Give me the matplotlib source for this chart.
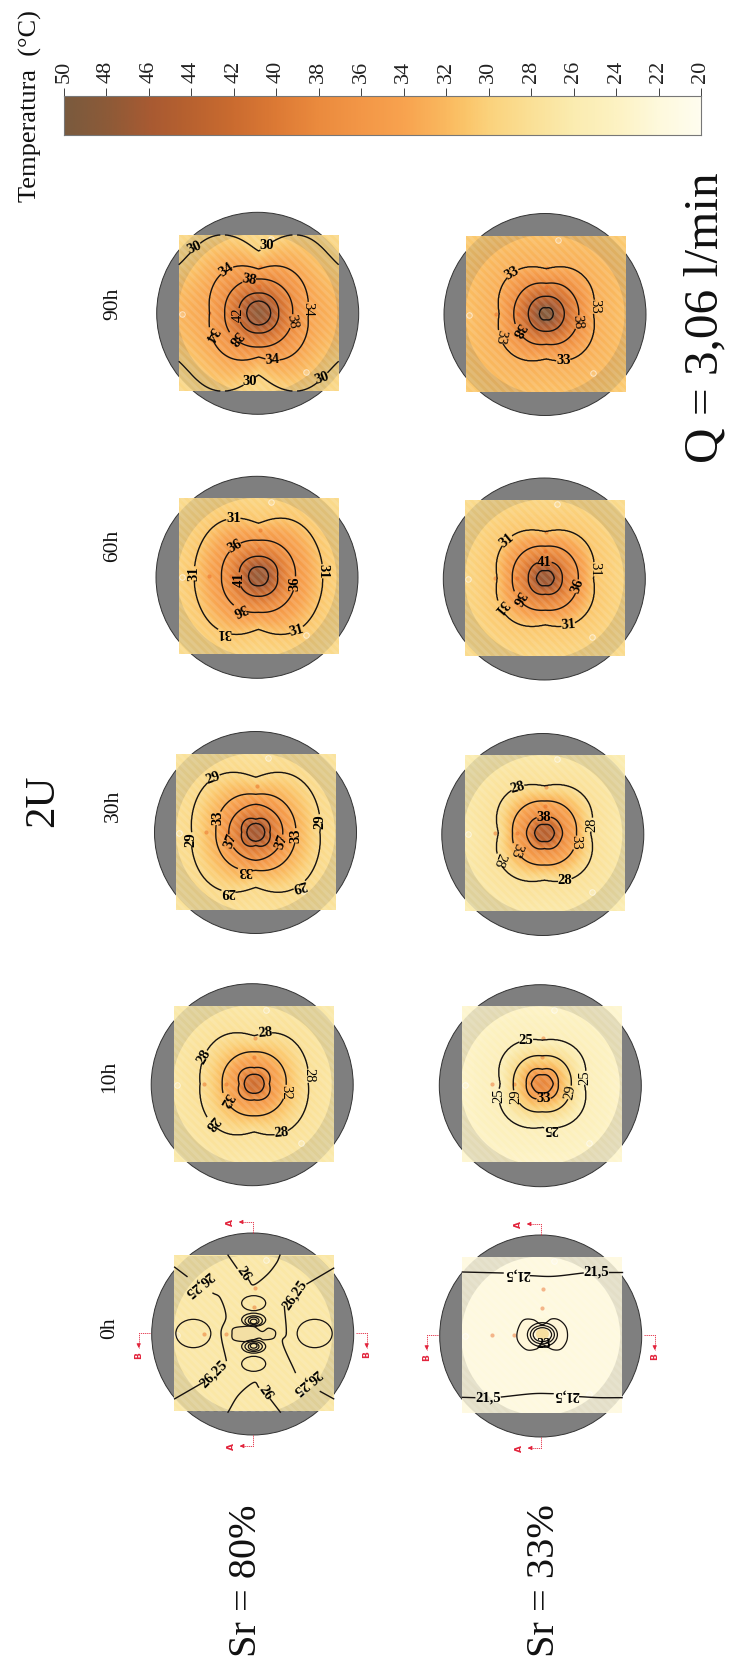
import numpy as np
import matplotlib
matplotlib.use("Agg")
import matplotlib.pyplot as plt
from matplotlib.colors import LinearSegmentedColormap
from matplotlib.patches import Circle, Rectangle, Ellipse, Wedge

plt.rcParams['font.family'] = ['Liberation Serif', 'DejaVu Serif']
plt.rcParams['hatch.linewidth'] = 2.2

W, H = 731, 1663

# ---------- colour scale ----------
cbar_temps = [20, 22, 24, 26, 28, 30, 31, 32, 34, 36, 38, 40, 42, 44, 46, 48, 50]
cbar_cols = ['#fffdef', '#fef9dc', '#fdf2c2', '#fbecb0', '#fae096', '#fbd27c', '#fbc66b', '#fab95f',
             '#f8a34f', '#f39747', '#eb8b3e', '#dd7a35', '#cb6c30', '#b9622f', '#a85a32', '#8d5a38', '#7a5a3e']
cbar_ticks = list(range(50, 18, -2))

# ---------- panel geometry (square centre, circle centre; pixels) ----------
titles = ['0h', '10h', '30h', '60h', '90h']
sq80_x = [254.0, 254.2, 255.8, 258.5, 258.7]
sq80_y = [1333.5, 1083.8, 832.3, 576.3, 313.0]
ci80_x = [252.7, 252.2, 255.5, 257.0, 257.7]
ci80_y = [1334.0, 1084.7, 832.5, 577.3, 313.3]
sq33_x = [542.4, 542.3, 544.5, 545.3, 546.3]
sq33_y = [1335.0, 1083.8, 833.0, 578.2, 313.8]
ci33_x = [540.7, 540.3, 542.8, 544.3, 545.0]
ci33_y = [1336.0, 1085.7, 834.5, 579.0, 314.5]

# ---------- temperature profiles: temperature at radial distance along x, y, diagonal ----------
t_0_80 = [28.2, 27.6, 27.0, 26.8, 26.7]
rx_0_80 = [0, 8, 20, 40, 120]
ry_0_80 = [0, 6, 18, 40, 120]
rd_0_80 = [0, 6, 16, 40, 120]
lv_0_80 = []

t_0_33 = [29.0, 25.0, 22.6, 21.8, 21.6]
rx_0_33 = [0, 6, 14, 26, 120]
ry_0_33 = [0, 5, 11, 20, 120]
rd_0_33 = [0, 5, 12, 22, 120]
lv_0_33 = []

t_10_80 = [42, 40, 36, 32, 28, 25.5]
rx_10_80 = [0, 10, 15, 32, 54, 125]
ry_10_80 = [0, 9.5, 16, 32, 48, 115]
rd_10_80 = [0, 10, 18, 33, 58, 135]
lv_10_80 = [28, 32, 36, 40]

t_10_33 = [39, 37, 33, 29, 25, 22.5]
rx_10_33 = [0, 11, 16, 29, 42, 110]
ry_10_33 = [0, 9, 14.5, 28, 43.5, 110]
rd_10_33 = [0, 10, 17, 30, 48.5, 120]
lv_10_33 = [25, 29, 33, 37]

t_30_80 = [46.5, 45, 41, 37, 33, 29, 26.5]
rx_30_80 = [0, 9, 14, 27, 40, 64, 125]
ry_30_80 = [0, 9, 13, 28, 38, 55, 115]
rd_30_80 = [0, 9, 16, 27, 41, 69, 135]
lv_30_80 = [29, 33, 37, 41, 45]

t_30_33 = [44.5, 43, 38, 33, 28, 24.5]
rx_30_33 = [0, 10, 18, 32, 46, 130]
ry_30_33 = [0, 8.5, 15.5, 32, 47, 130]
rd_30_33 = [0, 9.5, 17.5, 33.5, 54, 145]
lv_30_33 = [28, 33, 38, 43]

t_60_80 = [47.5, 46, 41, 36, 31, 27.5]
rx_60_80 = [0, 10, 19, 37, 64, 125]
ry_60_80 = [0, 9.5, 20, 36, 53, 115]
rd_60_80 = [0, 10, 20.5, 38, 67, 130]
lv_60_80 = [31, 36, 41, 46]

t_60_33 = [47, 46, 41, 36, 31, 26.5]
rx_60_33 = [0, 9, 17, 33, 48, 150]
ry_60_33 = [0, 7.5, 16, 32, 46.5, 150]
rd_60_33 = [0, 8.5, 17.5, 34, 54, 160]
lv_60_33 = [31, 36, 41, 46]

t_90_80 = [48, 46, 42, 38, 34, 30, 27.5]
rx_90_80 = [0, 12, 20, 34, 49, 125, 190]
ry_90_80 = [0, 12, 20, 34, 44, 62, 115]
rd_90_80 = [0, 12, 20.5, 35, 54, 91, 140]
lv_90_80 = [30, 34, 38, 42, 46]

t_90_33 = [49, 48, 43, 38, 33, 28]
rx_90_33 = [0, 7, 18, 32.5, 47, 160]
ry_90_33 = [0, 6, 17.5, 30.5, 45, 160]
rd_90_33 = [0, 7, 18, 33, 53, 170]
lv_90_33 = [33, 38, 43, 48]

# ---------- contour labels: text offset dx, dy, angle, bold ----------
lb_10_80 = [(11,-47,5,1),(-50,-27,60,1),(52,-8,-90,0),(31,8,-90,0),(-27,15,-120,1),(-42,38,-130,1),(27,47,5,1)]
lb_10_33 = [(-15,-41,0,1),(40,-6,90,0),(-42,12,90,0),(-26,13,90,0),(25,8,80,0),(1,16,0,1),(9,43,180,1)]
lb_30_80 = [(-40,-51,20,1),(-37,-14,90,1),(-26,9,70,1),(-63,7,90,1),(25,9,70,1),(39,3,90,1),(63,-11,90,1),
            (-11,38,180,1),(-27,56,180,1),(43,52,-165,1)]
lb_30_33 = [(-26,-44,15,1),(-1,-15,0,1),(45,-9,90,0),(28,9,-90,0),(-27,16,-110,0),(-44,27,-110,0),(20,46,0,1)]
lb_60_80 = [(-25,-52,0,1),(-62,-3,90,1),(-22,-27,30,1),(-17,3,90,1),(36,7,90,1),(64,-5,-90,1),(-18,31,-155,1),
            (-32,52,180,1),(37,52,15,1)]
lb_60_33 = [(-38,-37,40,1),(-1,-14,0,1),(49,-9,-90,0),(31,8,70,1),(-27,19,-120,1),(-46,29,-130,1),(23,46,5,1)]
lb_90_80 = [(-58,-59,25,1),(12,-62,0,1),(-30,-39,35,1),(-9,-30,-10,1),(48,-4,-90,0),(32,8,-80,0),(-19,2,90,0),
            (-23,23,-130,1),(-47,21,-120,1),(14,45,5,1),(-13,63,0,1),(59,60,20,1)]
lb_90_33 = [(-32,-38,30,1),(45,-7,-90,0),(30,8,-85,0),(-27,16,-120,1),(-46,23,-100,0),(17,45,0,1)]

prof80 = [(t_0_80, rx_0_80, ry_0_80, rd_0_80, lv_0_80, []),
          (t_10_80, rx_10_80, ry_10_80, rd_10_80, lv_10_80, lb_10_80),
          (t_30_80, rx_30_80, ry_30_80, rd_30_80, lv_30_80, lb_30_80),
          (t_60_80, rx_60_80, ry_60_80, rd_60_80, lv_60_80, lb_60_80),
          (t_90_80, rx_90_80, ry_90_80, rd_90_80, lv_90_80, lb_90_80)]
prof33 = [(t_0_33, rx_0_33, ry_0_33, rd_0_33, lv_0_33, []),
          (t_10_33, rx_10_33, ry_10_33, rd_10_33, lv_10_33, lb_10_33),
          (t_30_33, rx_30_33, ry_30_33, rd_30_33, lv_30_33, lb_30_33),
          (t_60_33, rx_60_33, ry_60_33, rd_60_33, lv_60_33, lb_60_33),
          (t_90_33, rx_90_33, ry_90_33, rd_90_33, lv_90_33, lb_90_33)]

# ---------- sensors ----------
sensor_x = [1, 0, -50, -28]
sensor_y = [-46, -27, 0, 0]
ring_x = [12, -77, 47]
ring_y = [-74, 1, 59]

# ---------- 0h contour traces (zoom-crop coordinates) ----------
c80 = (371, 551)
lines_0_80 = [
    [(293,316),(320,355)], [(355,390),(370,405),(410,375),(438,340),(449,316)],
    [(293,787),(325,735),(370,698),(385,712)], [(420,748),(450,787)],
    [(133,352),(170,380)], [(248,430),(270,445),(287,500),(272,550),(288,632)],
    [(218,698),(133,747)],
    [(610,355),(530,402)], [(462,470),(468,550),(457,580),(495,668)],
    [(570,725),(610,747)],
]
loops_0_80 = [(189,551,105,85),(553,551,105,85),(370,460,72,45),(370,642,72,45),
              (370,510,72,40),(370,513,52,30),(370,513,32,22),(370,515,20,14),
              (370,590,72,40),(370,590,52,30),(370,590,32,22),(370,588,20,14)]
blob_0_80 = [(310,535),(340,530),(370,530),(395,545),(415,535),(435,545),(430,565),(400,570),
             (385,565),(350,575),(310,570),(305,550),(310,535)]
text_0_80 = [('26',340,372,-55),('26',405,728,-55),('26,25',205,403,-140),('26,25',495,437,55),
             ('26,25',250,672,45),('26,25',530,697,-140)]
c33 = (368, 556)
lines_0_33 = [
    [(128,367),(250,370)], [(332,378),(400,380),(490,370)], [(568,367),(607,367)],
    [(128,743),(165,744)], [(245,742),(340,732),(400,732)], [(480,741),(540,744),(607,744)],
]
loops_0_33 = [(368,555,90,72),(368,555,72,55),(368,555,55,42)]
blob_0_33 = [(368,525),(340,510),(310,512),(293,545),(295,575),(320,600),(350,598),(368,585),
             (400,600),(425,597),(442,570),(440,535),(420,512),(395,508),(368,525)]
text_0_33 = [('21,5',292,372,180),('21,5',528,368,0),('21,5',205,744,0),('21,5',440,735,180),('23',373,585,0)]

# ---------- section marks: start, corner, arrow end, letter position, letter (px from circle centre) ----------
marks = [([0,-101],[0,-112],[-14,-112],[-22,-111],'A'),
         ([0,101],[0,112],[-13,112],[-21,112],'A'),
         ([-103,-1],[-114,-1],[-114,14],[-114,22],'B'),
         ([103,-1],[114,-1],[114,14],[114,21],'B')]

cmap = LinearSegmentedColormap.from_list('t', [((t-20)/30, c) for t, c in zip(cbar_temps, cbar_cols)])


def field(X, Y, temps, rx, ry, rd):
    th = np.arctan2(Y, X)
    r = np.hypot(X, Y)
    s = (np.sin(2*th)**2)**0.6
    wx = np.cos(th)**2*(1-s)
    wy = np.sin(th)**2*(1-s)
    T = np.full(X.shape, float(temps[-1]))
    for k in range(len(temps)-1):
        r0 = s*rd[k]+wx*rx[k]+wy*ry[k]
        r1 = s*rd[k+1]+wx*rx[k+1]+wy*ry[k+1]
        m = (r >= r0) & (r < r1)
        T[m] = temps[k]+(r[m]-r0[m])/(r1[m]-r0[m])*(temps[k+1]-temps[k])
    return T


def smooth(pts, closed=False):
    p = np.array(pts, float)
    if len(p) < 3:
        return p
    if closed:
        q = np.vstack([p[-2], p, p[1]])
    else:
        q = np.vstack([2*p[0]-p[1], p, 2*p[-1]-p[-2]])
    u = np.linspace(0, 1, 12)[:, None]
    out = []
    for i in range(1, len(q)-2):
        a, b, c, d = q[i-1], q[i], q[i+1], q[i+2]
        out.append(0.5*(2*b+(c-a)*u+(2*a-5*b+4*c-d)*u**2+(3*b-a-3*c+d)*u**3))
    return np.vstack(out)


fig = plt.figure(figsize=(W/100, H/100), dpi=100, facecolor='white')
bg = fig.add_axes([0, 0, 1, 1])
bg.set_xlim(0, W)
bg.set_ylim(H, 0)
bg.axis('off')

HALF = 130
LINE = '#161210'


def panel(sx, sy, cx, cy, prof):
    ax = fig.add_axes([(sx-HALF)/W, 1-(sy+HALF)/H, 2*HALF/W, 2*HALF/H])
    ax.patch.set_alpha(0)
    ax.axis('off')
    temps, rx, ry, rd, lv, lb = prof
    x = np.linspace(-80, 80, 321)
    y = np.linspace(-78, 78, 313)
    X, Y = np.meshgrid(x, y)
    T = field(X, Y, temps, rx, ry, rd)
    dcx, dcy = cx-sx, cy-sy
    ax.add_patch(Circle((dcx, dcy), 101, fc='#7f7f7f', ec='#333333', lw=0.7, zorder=1))
    ext = (-80, 80, 78, -78)
    ax.imshow(T, extent=ext, cmap=cmap, vmin=20, vmax=50, aspect='auto', zorder=2, interpolation='bilinear')
    square = Rectangle((-80, -78), 160, 156, transform=ax.transData)
    ring = Wedge((dcx, dcy), 101, 0, 360, width=21.5, fc=(0.34, 0.34, 0.30, 0.16), ec='none', zorder=3)
    ax.add_patch(ring)
    ring.set_clip_path(square)
    ax.add_patch(Rectangle((-80, -78), 160, 156, fc='none', ec=(1, 1, 1, 0.12), lw=0, hatch='\\\\\\\\', zorder=4))
    ax.scatter(sensor_x, sensor_y, s=9, color='#e8641e', alpha=0.45, lw=0, zorder=5)
    ax.scatter(ring_x, ring_y, s=16, facecolor=(1, 1, 1, 0.15), edgecolor=(1, 1, 1, 0.6), lw=0.7, zorder=5)
    if lv:
        cs = ax.contour(X, Y, T, levels=lv, colors=LINE, linewidths=1.0, zorder=6)
        fmt = {l: str(l) for l in lv}
        cs.clabel(lv, inline=True, inline_spacing=1, fontsize=10.5, colors='k', fmt=fmt,
                  manual=[(a[0], a[1]) for a in lb])
        for t, a in zip(cs.labelTexts, lb):
            t.set_transform_rotates_text(False)
            t.set_rotation(a[2])
            t.set_fontweight('bold' if a[3] else 'normal')
            t.set_zorder(7)
    ax.set_xlim(-HALF, HALF)
    ax.set_ylim(HALF, -HALF)
    return ax, dcx, dcy


def draw_marks(ax, dcx, dcy):
    red = '#e2243c'
    for a, b, c, d, s in marks:
        ax.plot([a[0]+dcx, b[0]+dcx, c[0]+dcx], [a[1]+dcy, b[1]+dcy, c[1]+dcy], color=red, lw=0.6, ls=(0, (1.5, 1)), zorder=8)
        ax.annotate('', xy=(c[0]+dcx, c[1]+dcy),
                    xytext=(c[0]+dcx+np.sign(b[0]-c[0])*4, c[1]+dcy+np.sign(b[1]-c[1])*4),
                    arrowprops=dict(arrowstyle='-|>', color=red, lw=0.6, mutation_scale=6, shrinkA=0, shrinkB=0), zorder=8)
        ax.text(d[0]+dcx, d[1]+dcy, s, color=red, fontsize=6.5, rotation=90, ha='center', va='center',
                family=['DejaVu Sans'], fontweight='bold', zorder=8)


def draw_zero(ax, c, lines, loops, blob, texts, blob_fill):
    f = lambda pts: [((px-c[0])/3, (py-c[1])/3) for px, py in pts]
    for pts in lines:
        s = smooth(f(pts))
        ax.plot(s[:, 0], s[:, 1], color=LINE, lw=1.0, zorder=6)
    s = smooth(f(blob), closed=True)
    ax.fill(s[:, 0], s[:, 1], fc=blob_fill, ec=LINE, lw=0.9, zorder=5.5)
    for ex, ey, ew, eh in loops:
        ax.add_patch(Ellipse(((ex-c[0])/3, (ey-c[1])/3), ew/3, eh/3, fc='none', ec=LINE, lw=0.9, zorder=6))
    for t, tx, ty, rot in texts:
        ax.text((tx-c[0])/3, (ty-c[1])/3, t, fontsize=10.5, fontweight='bold', rotation=rot, ha='center',
                va='center', zorder=7, color='k')


for i in range(5):
    ax, dx, dy = panel(sq80_x[i], sq80_y[i], ci80_x[i], ci80_y[i], prof80[i])
    if i == 0:
        draw_zero(ax, c80, lines_0_80, loops_0_80, blob_0_80, text_0_80, '#f3dfa4')
        draw_marks(ax, dx, dy)
    ax, dx, dy = panel(sq33_x[i], sq33_y[i], ci33_x[i], ci33_y[i], prof33[i])
    if i == 0:
        draw_zero(ax, c33, lines_0_33, loops_0_33, blob_0_33, text_0_33, '#fff6d8')
        ax.add_patch(Ellipse((0, -1), 13, 11, fc='#f7dfa0', ec='none', zorder=5.8))
        draw_marks(ax, dx, dy)

# ---------- column titles and labels ----------
title_x = [110, 110, 113, 113, 113]
title_y = [1328, 1077, 806, 546, 304]
for t, tx, ty in zip(titles, title_x, title_y):
    bg.text(tx, ty, t, rotation=90, ha='center', va='center', fontsize=15.5, color='#111111')
bg.text(43, 801, '2U', rotation=90, ha='center', va='center', fontsize=31, color='#111111')
bg.text(246, 1581, 'Sr = 80%', rotation=90, ha='center', va='center', fontsize=29, color='#111111')
bg.text(544, 1581, 'Sr = 33%', rotation=90, ha='center', va='center', fontsize=29, color='#111111')
bg.text(705, 318, 'Q = 3,06 l/min', rotation=90, ha='center', va='center', fontsize=35.5, color='#111111')
bg.text(30, 106, 'Temperatura  (°C)', rotation=90, ha='center', va='center', fontsize=19, color='#111111')

# ---------- colour bar ----------
cax = fig.add_axes([63.7/W, 1-135/H, (701-63.7)/W, 39/H])
grad = np.linspace(50, 20, 601)[None, :]
cax.imshow(grad, extent=(50, 20, 0, 1), cmap=cmap, vmin=20, vmax=50, aspect='auto', interpolation='bilinear')
cax.set_xlim(50, 20)
cax.set_yticks([])
cax.xaxis.tick_top()
cax.set_xticks(cbar_ticks)
cax.set_xticklabels([str(t) for t in cbar_ticks], rotation=90, fontsize=16, color='#222222')
cax.tick_params(axis='x', length=6, width=0.6, color='#222222', pad=3.5)
for sp in cax.spines.values():
    sp.set_color('#777777')
    sp.set_linewidth(0.8)

fig.savefig('out.png', dpi=100, facecolor='white')
